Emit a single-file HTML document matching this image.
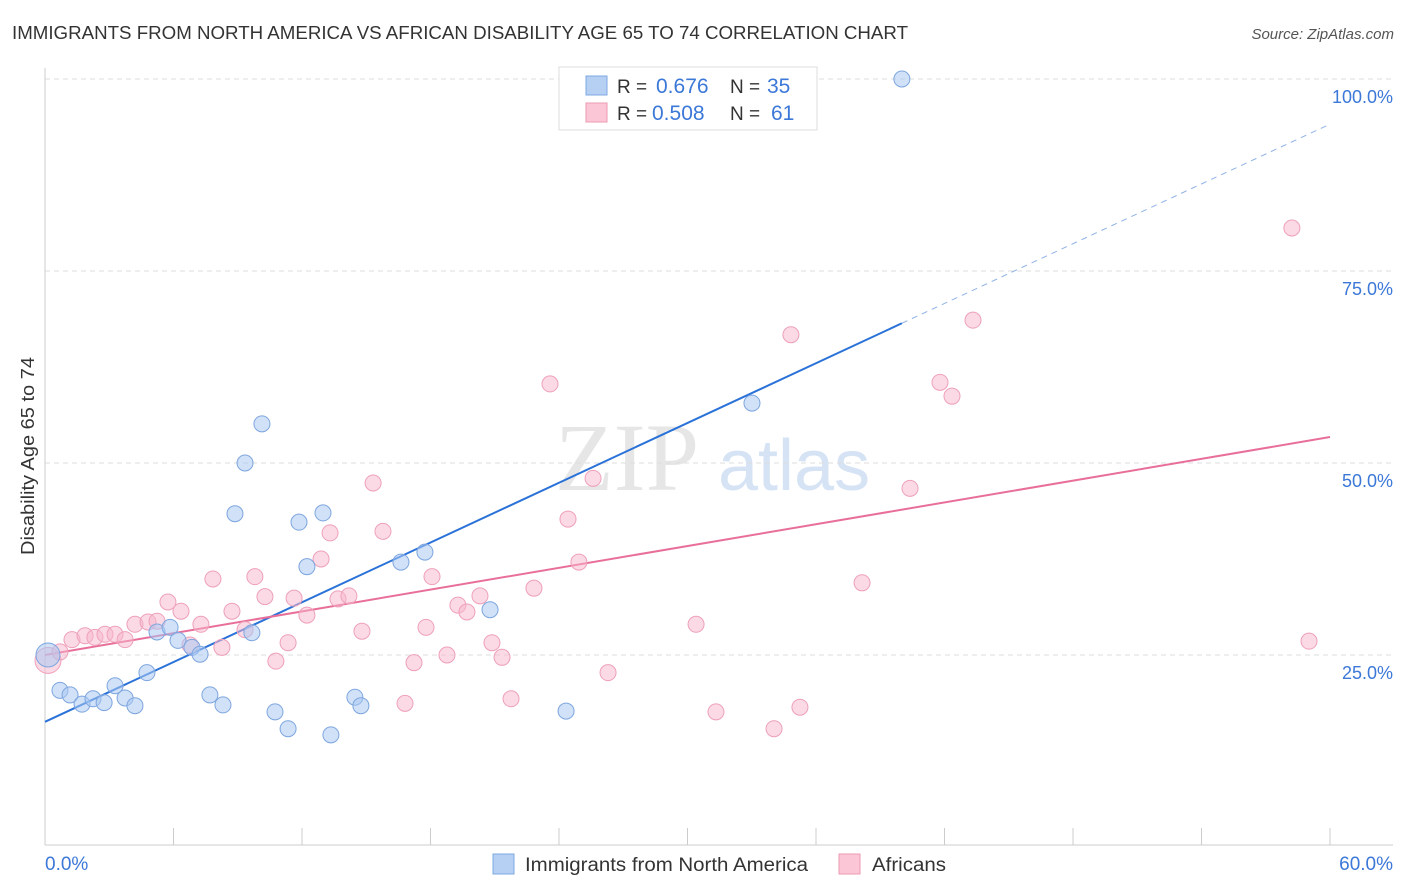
<!DOCTYPE html>
<html><head><meta charset="utf-8"><style>
body{margin:0;background:#fff;font-family:"Liberation Sans",sans-serif}
</style></head><body>
<svg id="chart" width="1406" height="892" style="display:block">
<text x="12" y="39" font-size="18" fill="#333" textLength="896" lengthAdjust="spacingAndGlyphs">IMMIGRANTS FROM NORTH AMERICA VS AFRICAN DISABILITY AGE 65 TO 74 CORRELATION CHART</text>
<text x="1394" y="39" font-size="15" fill="#555" font-style="italic" text-anchor="end">Source: ZipAtlas.com</text>
<text x="34" y="456" font-size="18" fill="#333" text-anchor="middle" textLength="198" lengthAdjust="spacingAndGlyphs" transform="rotate(-90 34 456)">Disability Age 65 to 74</text>
<g><text x="555" y="490" font-size="96" fill="#e6e6e6" font-family="Liberation Serif,serif">ZIP</text><text x="718" y="490" font-size="72" fill="#d5e3f5">atlas</text></g>
<g id="grid"></g>
<g id="axes"></g>
<g id="lines"></g>
<g id="pts"></g>
<g>
<rect x="559" y="67" width="258" height="63" fill="#fff" stroke="#ddd"/>
<rect x="586" y="76" width="21" height="19" fill="#b6d0f3" stroke="#7fa8e0"/>
<rect x="586" y="103" width="21" height="19" fill="#fbc7d6" stroke="#ee9ab3"/>
<text x="617" y="93" font-size="19" fill="#333">R =</text><text x="656" y="93" font-size="21" fill="#3b78d8">0.676</text>
<text x="730" y="93" font-size="19" fill="#333">N =</text><text x="767" y="93" font-size="21" fill="#3b78d8">35</text>
<text x="617" y="120" font-size="19" fill="#333">R =</text><text x="652" y="120" font-size="21" fill="#3b78d8">0.508</text>
<text x="730" y="120" font-size="19" fill="#333">N =</text><text x="771" y="120" font-size="21" fill="#3b78d8">61</text>
</g>
<g>
<rect x="493" y="854" width="21" height="20" fill="#b6d0f3" stroke="#7fa8e0"/>
<text x="525" y="871" font-size="19" fill="#333" textLength="283" lengthAdjust="spacingAndGlyphs">Immigrants from North America</text>
<rect x="839" y="854" width="21" height="20" fill="#fbc7d6" stroke="#ee9ab3"/>
<text x="872" y="871" font-size="19" fill="#333" textLength="74" lengthAdjust="spacingAndGlyphs">Africans</text>
</g>
</svg>
<script>
const yTicks=[25,50,75,100];
const yTickLabels=["25.0%","50.0%","75.0%","100.0%"];
const xTickLabels=["0.0%","60.0%"];
const blueX=[0.14,0.70,1.17,1.73,2.24,2.76,3.27,3.74,4.20,4.76,5.23,5.84,6.21,6.86,7.24,7.70,8.31,8.87,9.34,9.66,10.13,10.74,11.35,11.86,12.23,12.98,13.35,14.47,14.75,16.62,17.74,20.78,24.33,33.01,40.01];
const blueY=[25.0,20.4,19.8,18.6,19.3,18.8,21.0,19.4,18.4,22.7,28.0,28.6,26.9,26.0,25.1,19.8,18.5,43.4,50.0,27.9,55.1,17.6,15.4,42.3,36.5,43.5,14.6,19.5,18.4,37.1,38.4,30.9,17.7,57.8,100.0];
const pinkX=[0.14,0.70,1.26,1.87,2.33,2.80,3.27,3.74,4.20,4.81,5.23,5.74,6.35,6.77,7.28,7.84,8.26,8.73,9.34,9.80,10.27,10.78,11.35,11.63,12.23,12.89,13.31,13.68,14.19,14.80,15.32,15.78,16.81,17.23,17.79,18.07,18.77,19.28,19.70,20.31,20.87,21.34,21.76,22.83,23.58,24.42,24.93,25.59,26.29,30.40,31.33,34.04,34.83,35.25,38.15,40.39,41.79,42.35,43.33,58.22,59.02];
const pinkY=[24.3,25.4,27.0,27.5,27.3,27.7,27.7,27.0,29.0,29.3,29.4,31.9,30.7,26.3,29.0,34.9,26.0,30.7,28.3,35.2,32.6,24.2,26.6,32.4,30.2,37.5,40.9,32.3,32.7,28.1,47.4,41.1,18.7,24.0,28.6,35.2,25.0,31.5,30.6,32.7,26.6,24.7,19.3,33.7,60.3,42.7,37.1,48.0,22.7,29.0,17.6,15.4,66.7,18.2,34.4,46.7,60.5,58.7,68.6,80.6,26.8];
const blueLine=[16.3,1.297]; // intercept, slope
const pinkLine=[25.0,0.473];
const X0=45,X1=1330,Y0=847,Y100=79;
const sx=v=>X0+(X1-X0)*v/60, sy=v=>Y0-(Y0-Y100)*v/100;
const NS="http://www.w3.org/2000/svg";
function mk(p,t,a){const e=document.createElementNS(NS,t);for(const k in a)e.setAttribute(k,a[k]);p.appendChild(e);return e;}
const grid=document.getElementById('grid'),axes=document.getElementById('axes'),lines=document.getElementById('lines'),pts=document.getElementById('pts');
yTicks.forEach((t,i)=>{
 const l=mk(grid,'line',{x1:45,x2:1393,y1:sy(t),y2:sy(t),stroke:'#ddd','stroke-dasharray':'5,4'});
 
 
 const tx=mk(axes,'text',{x:1393,y:sy(t)+24,'font-size':18,fill:'#3b78d8','text-anchor':'end'});tx.textContent=yTickLabels[i];
 
 
});
mk(axes,'line',{x1:45,x2:45,y1:68,y2:845,stroke:'#ccc'});
mk(axes,'line',{x1:45,x2:1393,y1:845,y2:845,stroke:'#ccc'});
for(let i=0;i<=10;i++){const x=sx(i*6);const t=mk(axes,'line',{x1:x,x2:x,y1:828,y2:845,stroke:'#ccc'});
 
 }
[[0,'start',45],[60,'end',1393]].forEach((d,i)=>{const t=mk(axes,'text',{x:d[2],y:870,'font-size':19,fill:'#3b78d8','text-anchor':d[1]});t.textContent=xTickLabels[i];
 
 });
const bEnd=Math.max(...blueX);
let l1=mk(lines,'line',{x1:sx(0),y1:sy(blueLine[0]),x2:sx(bEnd),y2:sy(blueLine[0]+blueLine[1]*bEnd),stroke:'#2a72d8','stroke-width':2});


let l2=mk(lines,'line',{x1:sx(bEnd),y1:sy(blueLine[0]+blueLine[1]*bEnd),x2:sx(60),y2:sy(blueLine[0]+blueLine[1]*60),stroke:'#8fb2e6','stroke-width':1,'stroke-dasharray':'6,5'});


let l3=mk(lines,'line',{x1:sx(0),y1:sy(pinkLine[0]),x2:sx(60),y2:sy(pinkLine[0]+pinkLine[1]*60),stroke:'#e86f9a','stroke-width':2});


pinkX.forEach((x,i)=>{const c=mk(pts,'circle',{cx:sx(x),cy:sy(pinkY[i]),r:i==0?13:8,fill:'rgba(248,182,204,0.5)',stroke:'#eea0ba','stroke-width':1});
 
 });
blueX.forEach((x,i)=>{const c=mk(pts,'circle',{cx:sx(x),cy:sy(blueY[i]),r:i==0?12:8,fill:'rgba(170,200,242,0.55)',stroke:'#7ea6df','stroke-width':1});
 
 });
</script>
</body></html>
